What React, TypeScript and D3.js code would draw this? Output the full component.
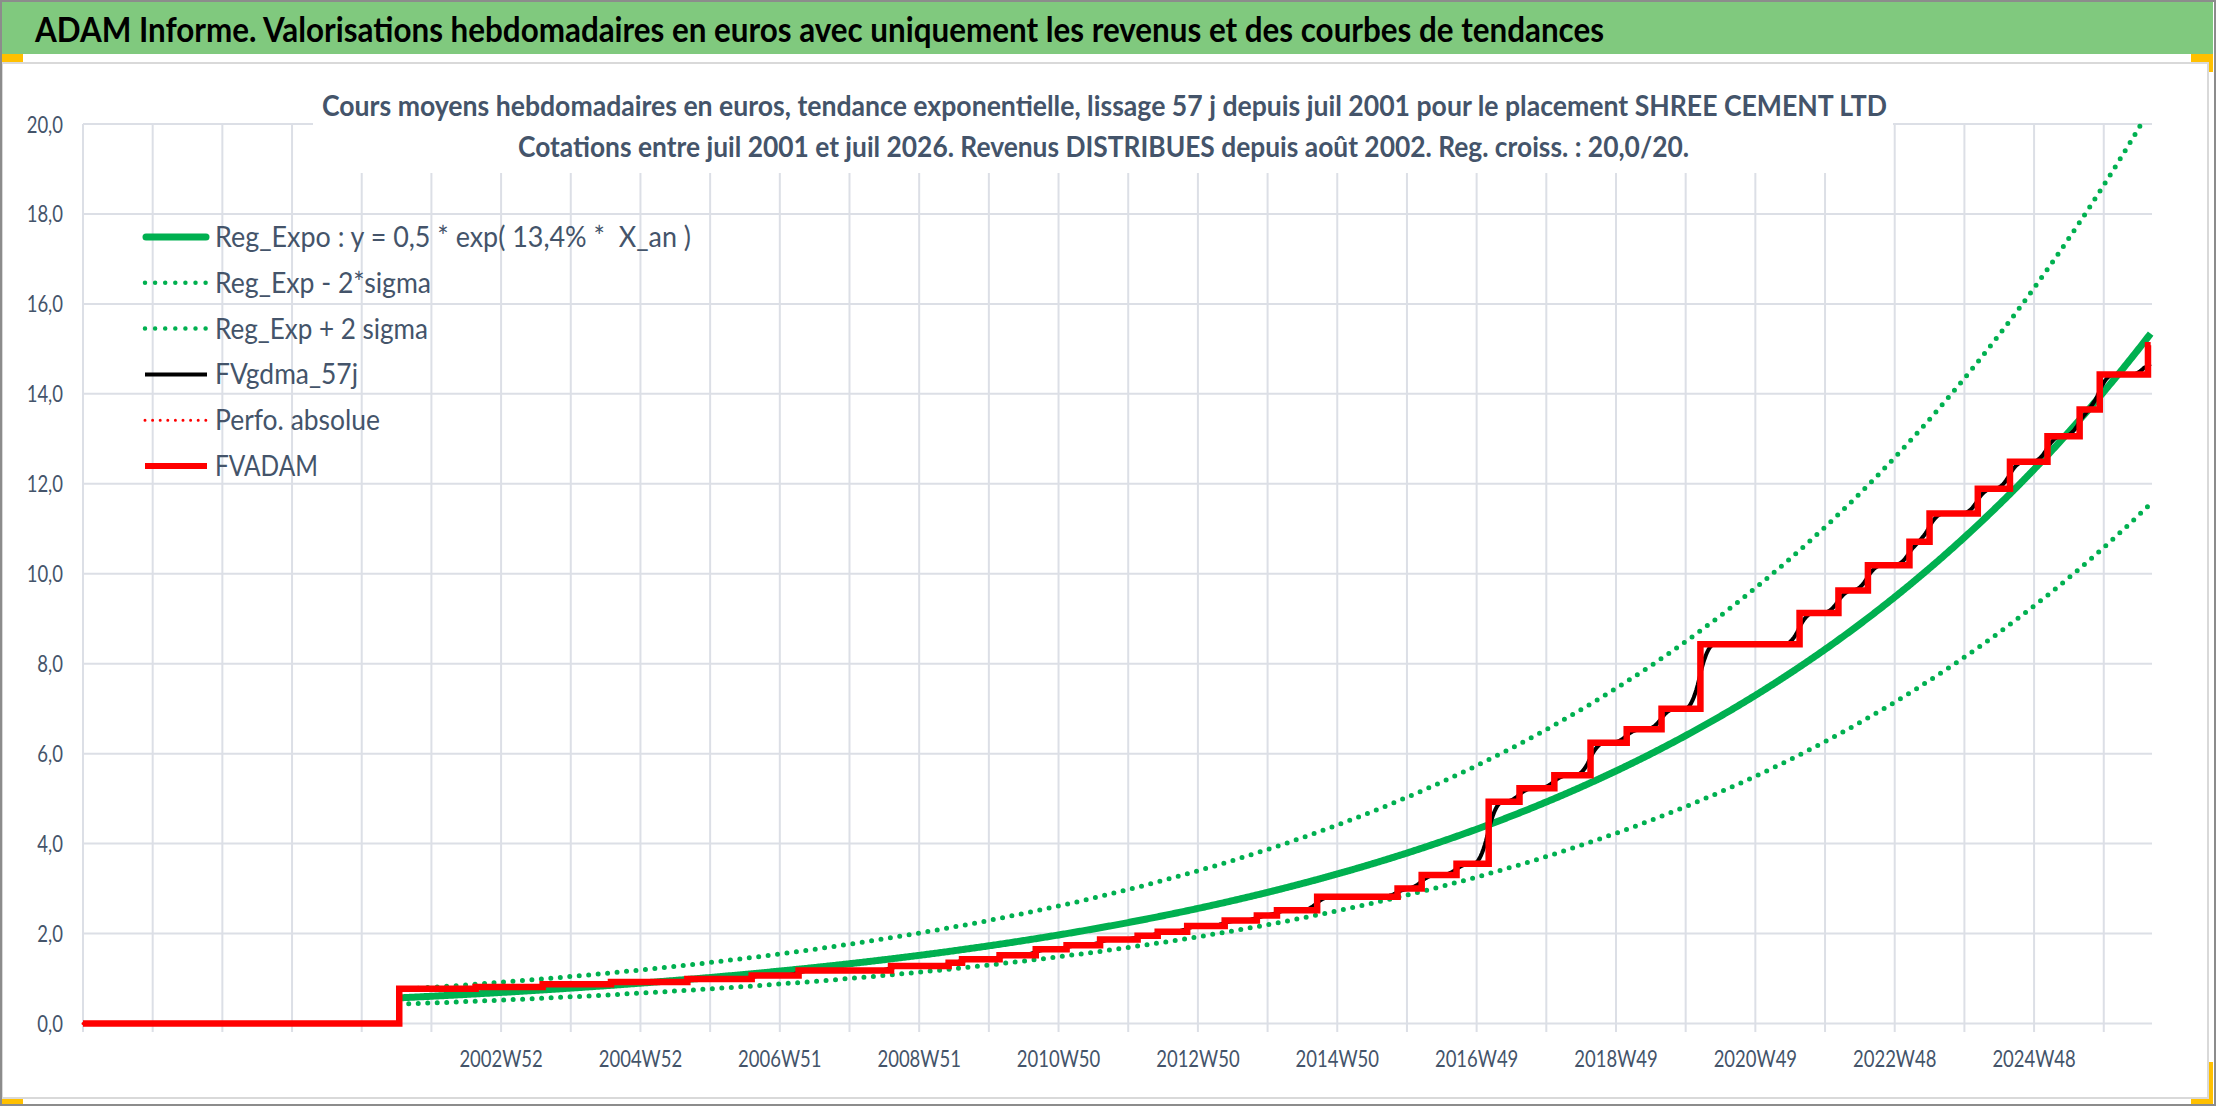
import React from "react";
import * as d3 from "d3";

const W = 2216;
const H = 1106;

// ---- category axis (weekly categories) ----
const weekCount = 1544;
const gridEveryWeeks = 52;
const labelFirstWeek = 312;
const labelEveryWeeks = 104;
const tickLabels = [
  "2002W52", "2004W52", "2006W51", "2008W51", "2010W50", "2012W50",
  "2014W50", "2016W49", "2018W49", "2020W49", "2022W48", "2024W48",
];
const yTickValues = [0, 2, 4, 6, 8, 10, 12, 14, 16, 18, 20];

// ---- FVADAM (step series: week index where level starts, level) ----
const fvStepWeeks = [
  0, 236, 293, 343, 394, 451, 499, 534, 603, 646, 656, 684, 711, 734, 759, 787,
  802, 824, 852, 876, 891, 921, 981, 999, 1025, 1049, 1072, 1098, 1125, 1152,
  1178, 1207, 1281, 1310, 1332, 1363, 1378, 1414, 1438, 1466, 1490, 1505, 1541,
];
const fvStepValues = [
  0, 0.77, 0.81, 0.87, 0.92, 0.99, 1.07, 1.18, 1.28, 1.35, 1.43, 1.52, 1.65,
  1.74, 1.87, 1.95, 2.04, 2.17, 2.29, 2.4, 2.52, 2.82, 3.0, 3.3, 3.55, 4.93,
  5.23, 5.52, 6.24, 6.54, 7.0, 8.43, 9.13, 9.63, 10.19, 10.71, 11.34, 11.89,
  12.49, 13.06, 13.65, 14.43, 15.08,
];
const lastWeek = 1543;
const quoteStartWeek = 236;

// ---- exponential regression parameters ----
const regStartValue = 0.57;
const regRatePerYear = 0.131;
const twoSigmaLog = 0.283;
const smoothHalfWindow = 5;

// ---- texts ----
const headerTitle =
  "ADAM Informe. Valorisations hebdomadaires en euros avec uniquement les revenus et des courbes de tendances";
const chartTitle1 =
  "Cours moyens hebdomadaires en euros, tendance exponentielle, lissage 57 j depuis juil 2001 pour le placement SHREE CEMENT LTD";
const chartTitle2 =
  "Cotations entre juil 2001 et juil 2026. Revenus DISTRIBUES depuis août 2002. Reg. croiss. : 20,0/20.";
const legendNames = [
  "Reg_Expo : y = 0,5 * exp( 13,4% *  X_an )",
  "Reg_Exp - 2*sigma",
  "Reg_Exp + 2 sigma",
  "FVgdma_57j",
  "Perfo. absolue",
  "FVADAM",
];
const legendWidths = [476, 216, 213, 143, 165, 103];

const GREEN = "#00B050";
const RED = "#FF0000";
const TEXT = "#44546A";
const GRID = "#DCDFE6";
const FONT = "Lato, 'Open Sans', sans-serif";

type Pt = { w: number; v: number };

export default function App() {
  const x = d3.scaleLinear().domain([0, weekCount]).range([83, 2152]);
  const y = d3.scaleLinear().domain([0, 20]).range([1023.5, 124]);

  const weeks = d3.range(quoteStartWeek, lastWeek + 1);
  const trend: Pt[] = weeks.map((w) => ({
    w,
    v: regStartValue * Math.exp((regRatePerYear * (w - quoteStartWeek)) / gridEveryWeeks),
  }));
  const lower: Pt[] = trend.map((d) => ({ w: d.w, v: d.v * Math.exp(-twoSigmaLog) }));
  const upper: Pt[] = trend.map((d) => ({ w: d.w, v: d.v * Math.exp(twoSigmaLog) }));

  const steps: Pt[] = fvStepWeeks
    .map((w, i) => ({ w, v: fvStepValues[i] }))
    .concat([{ w: lastWeek, v: fvStepValues[fvStepValues.length - 1] }]);

  const fvAt = (w: number) => fvStepValues[d3.bisectRight(fvStepWeeks, w) - 1];
  const weekly = weeks.map(fvAt);
  const smooth = (arr: number[]) =>
    arr.map((_, i) =>
      d3.mean(arr.slice(Math.max(0, i - smoothHalfWindow), Math.min(arr.length, i + smoothHalfWindow + 1))) as number
    );
  const sm = smooth(smooth(weekly));
  const black: Pt[] = weeks.map((w, i) => ({ w, v: sm[i] }));

  const line = d3
    .line<Pt>()
    .x((d) => x(d.w))
    .y((d) => y(d.v));
  const stepLine = d3
    .line<Pt>()
    .x((d) => x(d.w))
    .y((d) => y(d.v))
    .curve(d3.curveStepAfter);

  const gridWeeks = d3.range(0, weekCount, gridEveryWeeks);
  const labelWeeks = tickLabels.map((_, i) => labelFirstWeek + i * labelEveryWeeks);

  const legendY0 = 237;
  const legendStep = 45.8;

  return (
    <svg
      width={W}
      height={H}
      style={{ position: "absolute", left: 0, top: 0, background: "#fff" }}
      fontFamily={FONT}
    >
      <defs>
        <clipPath id="plotClip">
          <rect x={0} y={122} width={W} height={912} />
        </clipPath>
      </defs>
      <rect x={0} y={0} width={W} height={H} fill="#fff" />
      {/* yellow corner markers */}
      <rect x={0} y={53} width={23} height={10} fill="#FFC000" />
      <rect x={2191} y={53} width={22} height={19} fill="#FFC000" />
      <rect x={2191} y={1062} width={22} height={42} fill="#FFC000" />
      <rect x={0} y={1099} width={23} height={7} fill="#FFC000" />
      {/* header */}
      <rect x={2} y={2} width={2211} height={52} fill="#80C97E" />
      <text
        x={35}
        y={42}
        fontSize={35}
        fontWeight="bold"
        fill="#000"
        textLength={1569}
        lengthAdjust="spacingAndGlyphs"
      >
        {headerTitle}
      </text>
      {/* chart area */}
      <rect x={2} y={63} width={2206} height={1035} fill="#fff" stroke="#D9D9D9" strokeWidth={2} />
      {/* gridlines */}
      {yTickValues.map((t) => (
        <line key={"h" + t} x1={83} x2={2152} y1={y(t)} y2={y(t)} stroke={GRID} strokeWidth={2} />
      ))}
      {gridWeeks.map((w) => (
        <line key={"v" + w} x1={x(w)} x2={x(w)} y1={124} y2={1032} stroke={GRID} strokeWidth={2} />
      ))}
      {/* title box */}
      <rect x={313} y={64} width={1580} height={109} fill="#fff" />
      <text
        x={322}
        y={116}
        fontSize={28}
        fontWeight="bold"
        fill={TEXT}
        textLength={1565}
        lengthAdjust="spacingAndGlyphs"
      >
        {chartTitle1}
      </text>
      <text
        x={518}
        y={157}
        fontSize={28}
        fontWeight="bold"
        fill={TEXT}
        textLength={1171}
        lengthAdjust="spacingAndGlyphs"
      >
        {chartTitle2}
      </text>
      {/* axis labels */}
      {yTickValues.map((t) => (
        <g key={"yl" + t} transform={`translate(63,${y(t) + 8.5}) scale(0.77,1)`}>
          <text textAnchor="end" fontSize={24} fill={TEXT}>
            {d3.format(".1f")(t).replace(".", ",")}
          </text>
        </g>
      ))}
      {labelWeeks.map((w, i) => (
        <g key={"xl" + w} transform={`translate(${x(w)},1067) scale(0.77,1)`}>
          <text textAnchor="middle" fontSize={24} fill={TEXT}>
            {tickLabels[i]}
          </text>
        </g>
      ))}
      {/* series */}
      <g clipPath="url(#plotClip)" fill="none">
        <path d={line(trend) || ""} stroke={GREEN} strokeWidth={7} />
        <path
          d={line(lower) || ""}
          stroke={GREEN}
          strokeWidth={5}
          strokeDasharray="0 9.5"
          strokeLinecap="round"
        />
        <path
          d={line(upper) || ""}
          stroke={GREEN}
          strokeWidth={5}
          strokeDasharray="0 9.5"
          strokeLinecap="round"
        />
        <path d={line(black) || ""} stroke="#000" strokeWidth={4} strokeLinejoin="round" />
        <path
          d={stepLine(steps) || ""}
          stroke={RED}
          strokeWidth={3}
          strokeDasharray="0 7.7"
          strokeLinecap="round"
        />
        <path d={stepLine(steps) || ""} stroke={RED} strokeWidth={6.5} strokeLinejoin="miter" />
      </g>
      {/* legend */}
      {legendNames.map((name, i) => {
        const cy = legendY0 + i * legendStep;
        let sample: React.ReactNode = null;
        if (i === 0)
          sample = <line x1={146} x2={206} y1={cy} y2={cy} stroke={GREEN} strokeWidth={7} strokeLinecap="round" />;
        else if (i === 1 || i === 2)
          sample = (
            <line
              x1={145}
              x2={206}
              y1={cy}
              y2={cy}
              stroke={GREEN}
              strokeWidth={4.5}
              strokeDasharray="0 10.1"
              strokeLinecap="round"
            />
          );
        else if (i === 3)
          sample = <line x1={145} x2={207} y1={cy} y2={cy} stroke="#000" strokeWidth={4} />;
        else if (i === 4)
          sample = (
            <line
              x1={145}
              x2={206}
              y1={cy}
              y2={cy}
              stroke={RED}
              strokeWidth={3}
              strokeDasharray="0 7.6"
              strokeLinecap="round"
            />
          );
        else sample = <line x1={145} x2={207} y1={cy} y2={cy} stroke={RED} strokeWidth={6} />;
        return (
          <g key={"lg" + i}>
            {sample}
            <text
              x={215}
              y={cy + 10}
              fontSize={28}
              fill={TEXT}
              textLength={legendWidths[i]}
              lengthAdjust="spacingAndGlyphs"
              style={{ whiteSpace: "pre" }}
            >
              {name}
            </text>
          </g>
        );
      })}
      {/* outer frame */}
      <rect x={1} y={1} width={2214} height={1104} fill="none" stroke="#8C8C8C" strokeWidth={2} />
    </svg>
  );
}
